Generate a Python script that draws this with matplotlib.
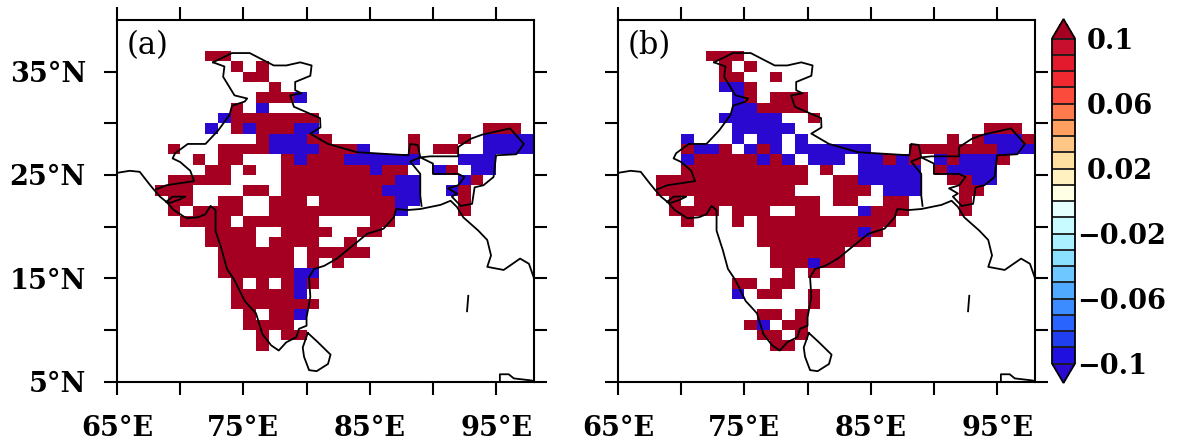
import numpy as np
import matplotlib
matplotlib.use("Agg")
import matplotlib.pyplot as plt
from matplotlib.colors import ListedColormap, BoundaryNorm
from matplotlib.cm import ScalarMappable


def r(a, b):
    return list(range(a, b + 1))


# cells by latitude (south edge) -> longitudes (west edge)
a_pos = {
    36: [72, 73], 35: [74, 76], 34: [75, 76], 33: [77], 32: [76, 77, 78], 31: [74],
    30: r(74, 80), 29: [74, 76, 77, 78, 94, 95, 96], 28: [76, 80, 81, 88, 92],
    27: [69, 73, 74, 75, 76, 81, 82, 83, 88, 90, 91], 26: [71, 73, 74, 78, 80, 81, 82],
    25: [72, 73, 75] + r(78, 84) + [86, 87, 91], 24: r(69, 73) + r(78, 86) + [93],
    23: [68, 69, 70, 75, 76] + r(78, 85) + [92], 22: [69, 70, 73, 74, 77, 78, 79] + r(81, 86) + [92],
    21: [69, 71, 72, 73, 74] + r(77, 86) + [92], 20: [70, 71, 72, 73] + r(75, 80) + [85, 86],
    19: r(72, 75) + r(78, 81) + [84, 85], 18: r(72, 75) + r(77, 80) + [83],
    17: r(73, 78) + r(80, 84), 16: r(73, 78) + [80, 82], 15: r(73, 78), 14: [74, 76, 78, 80],
    13: r(74, 78), 12: r(74, 80), 11: [75, 77, 78], 10: r(75, 78), 9: [76, 78, 79], 8: [76],
}
a_neg = {
    32: [79], 31: [76], 30: [73], 29: [72, 75, 79, 80], 28: [77, 78, 79, 94, 95, 96, 97],
    27: [77, 78, 79, 80, 84, 94, 95, 96, 97], 26: [79] + r(83, 88) + [92, 93, 94],
    25: [85, 90, 93, 94], 24: [87, 88, 92], 23: [86, 87, 88, 91], 22: [87, 88], 21: [87],
    15: [79, 80], 14: [79], 13: [79], 11: [79],
}
b_pos = {
    36: [72, 73, 74], 35: [73, 75], 34: [73, 74, 77], 33: [75], 32: [75, 77, 78, 79],
    31: [76, 77, 78, 79], 30: [80], 29: [94, 95, 96], 28: [91, 93, 97],
    27: [70, 73, 76] + r(88, 94), 26: r(71, 75) + [77, 86, 88, 91, 95],
    25: r(70, 79) + [81, 90], 24: r(68, 79) + [82, 83, 91, 92],
    23: r(68, 78) + [82, 83, 84, 92, 93], 22: [69] + r(71, 80) + [82, 83, 86, 87, 92],
    21: r(69, 72) + [74, 75, 76, 79, 80, 85, 86, 87, 92], 20: [70, 74] + r(76, 86),
    19: r(76, 83) + [85], 18: r(76, 84), 17: r(77, 82), 16: [77, 78, 79, 81, 82], 15: [78, 80],
    14: [74, 75, 77, 78], 13: [76, 77, 80], 12: [80], 11: [76, 77, 79], 10: [75, 78, 79],
    9: [76, 77, 79], 8: [77, 78],
}
b_neg = {
    33: [73, 74], 32: [74], 31: [74, 75], 30: r(73, 77), 29: r(74, 78),
    28: [70, 74, 76, 77, 79, 94, 95, 96], 27: [71, 72, 75, 77] + r(79, 84) + [95, 96, 97],
    26: [70, 76, 78, 80, 81, 82, 84, 85, 87, 90, 92, 93, 94], 25: r(84, 88) + r(91, 94),
    24: r(84, 88) + [93, 94], 23: [86, 87, 88], 21: [84], 19: [84], 16: [80], 13: [74], 10: [76],
}

# outlines (lon, lat)
coast_lon = [65, 66, 66.8, 67.5, 67.9, 68.4, 68.9, 69.5, 70.5, 71.4, 72, 72.4, 72.8, 72.8, 73.3, 73.7, 74.3, 75.1, 76, 76.5, 77.2, 77.8, 78.4, 79.2, 79.4, 80, 80, 80.3, 80.2, 80.6, 81.4, 82.4, 83.2, 84.8, 86.1, 86.9, 87.1, 88, 89, 90.6, 91.4, 91.9, 92.4, 93.6, 94.3, 94.6, 94.3, 95.6, 96.9, 97.6, 98]
coast_lat = [25.2, 25.4, 25.3, 24.2, 23.6, 22.9, 22.4, 21.6, 20.8, 20.9, 21.2, 22, 21.6, 19.6, 17.7, 15.9, 14.8, 12.8, 11.6, 9.6, 8.5, 8, 8.8, 9.3, 10.1, 10.4, 11.2, 13.2, 15.1, 15.9, 16.2, 16.9, 17.7, 19.3, 19.8, 20.9, 21.7, 21.6, 21.7, 22.1, 22.5, 21.9, 20.9, 19.6, 18.7, 17.2, 16.1, 15.8, 16.9, 16.4, 15]
west_lon = [72.6, 73.5, 73.4, 74.3, 75.3, 75.1, 74.1, 73.9, 73, 72, 70.6, 69.6, 69.4, 70, 70.8, 71.1, 68.9, 68.1]
west_lat = [35.9, 35.5, 34.5, 32.7, 32.4, 32.1, 31.7, 30.8, 29.3, 28, 28, 27.1, 26.6, 26.25, 25.4, 24.4, 24, 23.6]
north_lon = [72.6, 74.1, 75.5, 77.4, 78.4, 79.5, 80.4, 80.3, 79.1, 79.1, 79.6, 78.7, 79, 81.07, 81.1, 80.3, 81.7, 84, 88.06, 88.2, 88.8, 89, 89.8, 92, 92, 93, 93.9, 96.1, 97.2, 96.6, 95, 94.8, 94, 93.3, 93.1, 92.2]
north_lat = [35.9, 36.8, 36.8, 35.6, 35.6, 35.9, 35.6, 34.6, 34, 33.2, 32.9, 32.7, 31.6, 30.5, 29.6, 29, 28, 27.2, 26.9, 28, 27.9, 26.7, 26.8, 26.8, 27.7, 28.5, 28.9, 29.5, 28, 27, 26.9, 24.8, 24, 23.8, 22.2, 22]
bang_lon = [89, 88.2, 89, 89, 89.1]
bang_lat = [26.7, 26.3, 25.1, 23, 22]
bang2_lon = [89, 90, 90, 92, 92.5, 92, 91.2, 91.9, 91.5, 92.2]
bang2_lat = [26.7, 26.1, 25.1, 25.1, 24.8, 24, 23.7, 23.2, 22.9, 22]
kutch_lon = [68.9, 69.4, 70.4, 69.9, 69.2, 68.9]
kutch_lat = [22.4, 22.9, 22.9, 22.6, 22.3, 22.4]
lanka_lon = [80.1, 80.9, 81.9, 81.7, 80.8, 80.2, 79.8, 79.7, 80.1]
lanka_lat = [9.7, 8.8, 7.6, 6.7, 6, 6.1, 7.4, 8.3, 9.7]
andaman_lon = [92.8, 92.7]
andaman_lat = [13.3, 11.8]
sumatra_lon = [95.3, 95.3, 96, 96.4, 97.8, 98]
sumatra_lat = [5.0, 5.7, 5.7, 5.3, 5.1, 5.0]
outlines = [(coast_lon, coast_lat), (west_lon, west_lat), (north_lon, north_lat),
            (bang_lon, bang_lat), (bang2_lon, bang2_lat), (kutch_lon, kutch_lat),
            (lanka_lon, lanka_lat), (andaman_lon, andaman_lat), (sumatra_lon, sumatra_lat)]

levels = [round(-0.1 + 0.01 * i, 2) for i in range(21)]
band_colors = ["#2010E0", "#2040F0", "#2A64FF", "#3C8CFF", "#50AAFF", "#6EC8FF", "#8CE0FF", "#AAF0FF", "#C8FBFF", "#E5FFFF",
               "#FFFFE5", "#FFF2C0", "#FFE0A0", "#FFC685", "#FFA060", "#FF7A4D", "#FA4B3C", "#F0282F", "#E31A2D", "#C8102E"]
over_color = "#A50021"
under_color = "#2A08D0"
cb_ticks = [-0.1, -0.06, -0.02, 0.02, 0.06, 0.1]
cb_labels = ["\u22120.1", "\u22120.06", "\u22120.02", "0.02", "0.06", "0.1"]
x_ticks = [65, 70, 75, 80, 85, 90, 95]
x_labels = ["65°E", "", "75°E", "", "85°E", "", "95°E"]
y_ticks = [5, 10, 15, 20, 25, 30, 35]
y_labels = ["5°N", "", "15°N", "", "25°N", "", "35°N"]

W, H = 1183, 447
SERIF = "DejaVu Serif"
FS = 19.5


def px_axes(l, t, r_, b):
    return [l / W, 1 - b / H, (r_ - l) / W, (b - t) / H]


cmap = ListedColormap(band_colors)
cmap.set_over(over_color)
cmap.set_under(under_color)
norm = BoundaryNorm(levels, cmap.N)

fig = plt.figure(figsize=(W / 100, H / 100), dpi=100, facecolor="white")


def grid(pos, neg):
    lons = np.arange(65, 99)
    lats = np.arange(5, 41)
    z = np.full((len(lats) - 1, len(lons) - 1), np.nan)
    for lat, cols in pos.items():
        for c in cols:
            z[lat - 5, c - 65] = 0.12
    for lat, cols in neg.items():
        for c in cols:
            z[lat - 5, c - 65] = -0.12
    return lons, lats, np.ma.masked_invalid(z)


def panel(rect, pos, neg, tag, ylab):
    ax = fig.add_axes(rect)
    lons, lats, z = grid(pos, neg)
    ax.pcolormesh(lons, lats, z, cmap=cmap, norm=norm, shading="flat", linewidth=0)
    for lon, lat in outlines:
        ax.plot(lon, lat, color="black", lw=1.3, solid_joinstyle="round")
    ax.set_xlim(65, 98)
    ax.set_ylim(5, 40)
    ax.set_xticks(x_ticks)
    ax.set_xticklabels(x_labels, family=SERIF, fontsize=FS, fontweight="bold")
    ax.set_yticks(y_ticks)
    ax.set_yticklabels(y_labels if ylab else [""] * len(y_ticks), family=SERIF, fontsize=FS, fontweight="bold")
    ax.tick_params(direction="out", length=9.4, width=1.5, top=True, right=True)
    ax.tick_params(axis="x", pad=14.5)
    ax.tick_params(axis="y", pad=13)
    for s in ax.spines.values():
        s.set_linewidth(1.5)
    ax.text(0.024, 0.93, tag, transform=ax.transAxes, family=SERIF, fontsize=22, ha="left", va="center")
    return ax


panel(px_axes(117, 20, 534, 381.5), a_pos, a_neg, "(a)", True)
panel(px_axes(618, 20, 1035, 381.5), b_pos, b_neg, "(b)", False)

cax = fig.add_axes(px_axes(1052, 19, 1075, 383))
sm = ScalarMappable(norm=norm, cmap=cmap)
cb = fig.colorbar(sm, cax=cax, extend="both", extendfrac=19.5 / 325, drawedges=True, spacing="uniform")
cb.outline.set_linewidth(1.3)
cb.dividers.set_linewidth(1.3)
cb.dividers.set_color("#1a1a1a")
cb.set_ticks(cb_ticks)
cb.set_ticklabels(cb_labels)
cax.minorticks_off()
cax.tick_params(length=0, labelsize=FS, labelfontfamily=SERIF)
for lb in cax.get_yticklabels():
    lb.set_fontweight("bold")
for t, val in zip(cax.yaxis.get_major_ticks(), cb_ticks):
    t.set_pad(8.5 if val > 0 else 1.5)

fig.savefig("out.png", dpi=100, facecolor="white")
